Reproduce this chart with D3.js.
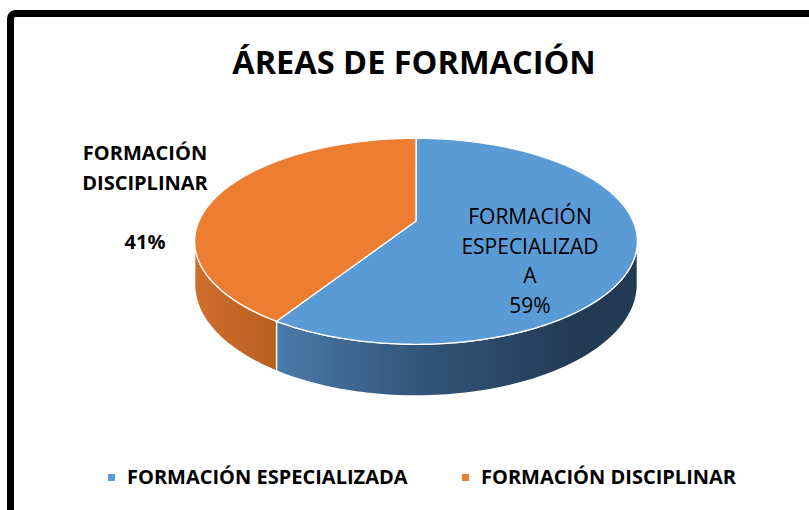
<!DOCTYPE html>
<html>
<head>
<meta charset="utf-8">
<script src="https://cdn.jsdelivr.net/npm/d3@7"></script>
<style>
  body { margin: 0; background: #fff; }
  text { font-family: "Open Sans", sans-serif; fill: #000; }
</style>
</head>
<body>
<script>
var w = 809;
var h = 510;

var categories = ["FORMACIÓN ESPECIALIZADA", "FORMACIÓN DISCIPLINAR"];
var values = [59, 41];
var percentLabels = ["59%", "41%"];
var colors = ["#5b9bd5", "#ed7d31"];

var svg = d3.select("body")
    .append("svg")
    .attr("width", w)
    .attr("height", h);

var defs = svg.append("defs");

// side gradients (left -> right)
var sideStops = [
    [["0%", "#4979a9"], ["45%", "#34567b"], ["100%", "#223a54"]],
    [["0%", "#d06e2d"], ["100%", "#b75f22"]]
];
sideStops.forEach(function(stops, i) {
    var g = defs.append("linearGradient")
        .attr("id", "side" + i)
        .attr("gradientUnits", "userSpaceOnUse")
        .attr("x1", i == 0 ? 280 : 195).attr("x2", i == 0 ? 580 : 280)
        .attr("y1", 0).attr("y2", 0);
    stops.forEach(function(s) {
        g.append("stop").attr("offset", s[0]).attr("stop-color", s[1]);
    });
});

// frame
svg.append("rect")
    .attr("x", 10.5)
    .attr("y", 13.5)
    .attr("width", 900)
    .attr("height", 700)
    .attr("rx", 5)
    .attr("fill", "none")
    .attr("stroke", "#000")
    .attr("stroke-width", 7);

// title
svg.append("text")
    .attr("x", 414)
    .attr("y", 74)
    .attr("text-anchor", "middle")
    .style("font-size", "32.5px")
    .style("font-weight", "bold")
    .text("ÁREAS DE FORMACIÓN");

// 3D pie projection (tilted circle with a bit of perspective)
var cx = 416, cy = 221;
var sx = 217, sy = 99, depth = 41.5, persp = 0.197;

function proj(t, lift) {
    var zn = -Math.cos(t);
    var f = 1 / (1 - persp * zn);
    return [cx + sx * Math.sin(t) * f, cy + (sy * zn + lift * depth) * f];
}

function arcPoints(a0, a1, lift) {
    var n = Math.max(2, Math.ceil((a1 - a0) / 0.02));
    return d3.range(n + 1).map(function(k) {
        return proj(a0 + (a1 - a0) * k / n, lift);
    });
}

var pie = d3.pie().sort(null).value(function(d) { return d; });
var slices = pie(values);

var line = d3.line();
var edgeR = Math.acos(-persp);           // right silhouette
var edgeL = 2 * Math.PI - edgeR;         // left silhouette

// outer walls
slices.forEach(function(d, i) {
    var a0 = Math.max(d.startAngle, edgeR);
    var a1 = Math.min(d.endAngle, edgeL);
    if (a1 <= a0) return;
    var pts = arcPoints(a0, a1, 0).concat(arcPoints(a0, a1, 1).reverse());
    svg.append("path")
        .attr("d", line(pts) + "Z")
        .attr("fill", "url(#side" + i + ")")
        .attr("stroke", "#fff")
        .attr("stroke-width", 1.3)
        .attr("stroke-linejoin", "round");
});

// top faces
slices.forEach(function(d, i) {
    var pts = [[cx, cy]].concat(arcPoints(d.startAngle, d.endAngle, 0));
    svg.append("path")
        .attr("d", line(pts) + "Z")
        .attr("fill", colors[i])
        .attr("stroke", "#fff")
        .attr("stroke-width", 1.3)
        .attr("stroke-linejoin", "round");
});

// data labels
function labelLines(x, yTop, lines, size, weight) {
    var t = svg.append("text")
        .attr("text-anchor", "middle")
        .style("font-size", size + "px")
        .style("font-weight", weight);
    lines.forEach(function(s, k) {
        t.append("tspan")
            .attr("x", x)
            .attr("y", yTop + k * 29.5 + size * 0.357)
            .text(s);
    });
}

labelLines(530, 217, ["FORMACIÓN", "ESPECIALIZAD", "A", percentLabels[0]], 21, "normal");
labelLines(145, 153, ["FORMACIÓN", "DISCIPLINAR", "", percentLabels[1]], 20, "bold");

// legend
var legendX = [108, 462];
categories.forEach(function(c, i) {
    svg.append("rect")
        .attr("x", legendX[i])
        .attr("y", 474)
        .attr("width", 7)
        .attr("height", 7)
        .attr("fill", colors[i]);
    svg.append("text")
        .attr("x", legendX[i] + 19)
        .attr("y", 484)
        .style("font-size", "20px")
        .style("font-weight", "bold")
        .text(c);
});
</script>
</body>
</html>
